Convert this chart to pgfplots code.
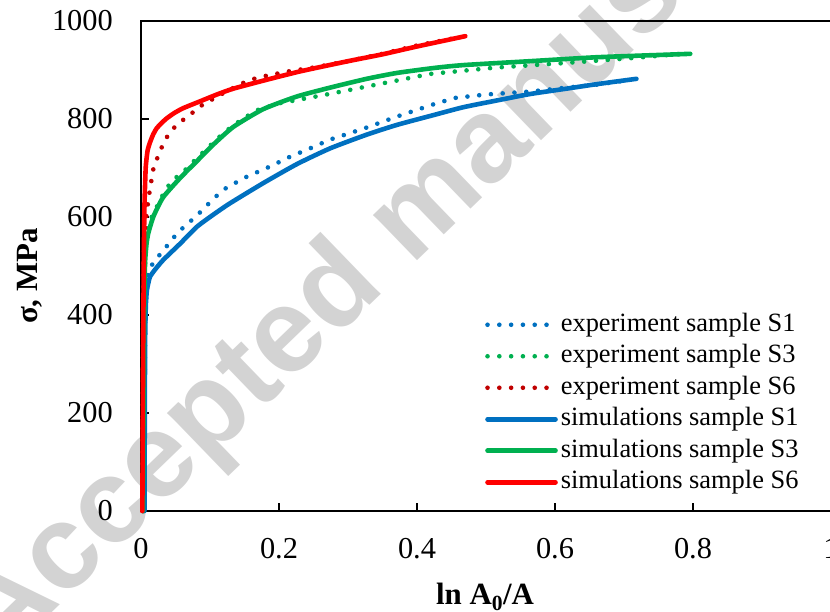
\documentclass[border=0pt]{standalone}
\usepackage{pgfplots}
\pgfplotsset{compat=1.18}
\usepackage{fontspec}
\setmainfont{Liberation Serif}
\newfontfamily\wmfont{Liberation Sans}

\definecolor{sOne}{HTML}{0070C0}
\definecolor{sThree}{HTML}{00B050}
\definecolor{sSix}{HTML}{FF0000}
\definecolor{eSix}{HTML}{C00000}
\definecolor{wmgray}{RGB}{211,211,211}

\pgfplotsset{
  expline/.style={line width=4.6bp, dash pattern=on 0bp off 11.8bp, line cap=round, line join=round},
  simline/.style={line width=4.6bp, line cap=round, line join=round, smooth, tension=0.35},
}

\begin{document}
\begin{tikzpicture}
% journal watermark behind the plot
\node[anchor=base west, rotate=44, text=wmgray, inner sep=0pt,
      font=\wmfont\bfseries\fontsize{120}{120}\selectfont]
      at (-141bp,-152bp) {Accepted manuscript};

\begin{axis}[
  scale only axis,
  width=690bp, height=490bp,
  xmin=0, xmax=1, ymin=0, ymax=1000,
  clip=false,
  axis line style={line width=1.8bp, black},
  xtick={0,0.2,0.4,0.6,0.8,1},
  xticklabels={0,0.2,0.4,0.6,0.8,1},
  ytick={0,200,400,600,800,1000},
  yticklabels={0,200,400,600,800,1000},
  minor tick num=0,
  tick align=inside,
  xtick pos=bottom, ytick pos=left,
  major tick length=8bp,
  tick style={line width=1.5bp, black},
  xticklabel style={font=\fontsize{30.5}{36}\selectfont, inner sep=0pt, anchor=north, yshift=-27bp},
  yticklabel style={font=\fontsize{30.5}{36}\selectfont, inner sep=0pt, anchor=east, xshift=-28bp},
  xlabel={\textbf{ln A\textsubscript{0}/A}},
  xlabel style={at={(axis description cs:0.4986,-0.1918)}, anchor=base, inner sep=0pt,
                font=\fontsize{31}{36}\selectfont},
  ylabel={\textbf{σ, MPa}},
  ylabel style={at={(axis description cs:-0.1493,0.4796)}, anchor=base, rotate=0, inner sep=0pt,
                font=\fontsize{31}{36}\selectfont},
  legend image code/.code={\draw[#1] (0bp,0bp) -- (68bp,0bp);},
  legend style={at={(axis description cs:0.4986,0.406)}, anchor=north west,
                draw=none, fill=none, inner sep=0pt,
                font=\fontsize{26.5}{30}\selectfont,
                nodes={inner sep=0pt, text height=19bp, text depth=6bp},
                row sep=6.5bp,
                /tikz/every odd column/.append style={column sep=3bp}},
  legend cell align=left,
]

% experiment, sample S1
\addplot[sOne, expline] coordinates {
(0.004,0) (0.005,200) (0.006,380) (0.008,450) (0.0106,492) (0.023,516)
(0.035,536) (0.044,553) (0.057,573) (0.081,603) (0.107,640) (0.124,660)
(0.153,682) (0.187,703) (0.216,723) (0.245,740) (0.274,758) (0.322,780)
(0.371,805) (0.424,830) (0.455,843) (0.50,850) (0.564,856) (0.617,864)
(0.66,870) (0.70,878)
};
\addlegendentry{experiment sample S1}

% experiment, sample S3
\addplot[sThree, expline] coordinates {
(0.003,0) (0.004,300) (0.005,450) (0.007,560) (0.0155,600) (0.023,621)
(0.030,641) (0.040,664) (0.052,682) (0.064,696) (0.076,713) (0.09,732)
(0.105,752) (0.12,772) (0.139,792) (0.153,805) (0.168,818) (0.2,832)
(0.235,841) (0.269,850) (0.337,869) (0.419,892) (0.515,905) (0.612,914)
(0.709,924) (0.793,934)
};
\addlegendentry{experiment sample S3}

% experiment, sample S6
\addplot[eSix, expline] coordinates {
(0.002,0) (0.0025,200) (0.003,400) (0.004,520) (0.006,580) (0.0106,635)
(0.0175,696) (0.023,718) (0.030,742) (0.037,762) (0.047,781) (0.060,797)
(0.073,811) (0.087,827) (0.102,839) (0.117,851) (0.147,873) (0.164,882)
(0.181,888) (0.213,897) (0.25,905) (0.30,918) (0.35,933) (0.40,950)
(0.465,968)
};
\addlegendentry{experiment sample S6}

% simulations, sample S1
\addplot[sOne, simline] coordinates {
(0.005,0) (0.0055,200) (0.006,350) (0.007,420) (0.0085,450) (0.0106,465)
(0.013,478) (0.02,492) (0.032,512) (0.057,546) (0.081,580) (0.105,605)
(0.129,628) (0.177,669) (0.226,708) (0.274,740) (0.327,768) (0.371,788)
(0.424,808) (0.467,824) (0.52,839) (0.564,851) (0.617,862) (0.66,871)
(0.718,882)
};
\addlegendentry{simulations sample S1}

% simulations, sample S3
\addplot[sThree, simline] coordinates {
(0.003,0) (0.004,300) (0.005,450) (0.006,510) (0.008,545) (0.0106,567)
(0.018,601) (0.032,640) (0.057,680) (0.081,714) (0.105,748) (0.134,784)
(0.177,820) (0.226,846) (0.274,864) (0.327,882) (0.371,894) (0.424,904)
(0.467,910) (0.564,918) (0.66,926) (0.757,931) (0.796,933)
};
\addlegendentry{simulations sample S3}

% simulations, sample S6
\addplot[sSix, simline] coordinates {
(0.002,0) (0.003,300) (0.004,500) (0.005,620) (0.0068,700) (0.0095,735)
(0.013,752) (0.0175,768) (0.0227,781) (0.03,792) (0.037,801) (0.048,812)
(0.061,822) (0.0855,836) (0.11,850) (0.134,862) (0.182,880) (0.23,897)
(0.30,918) (0.35,932) (0.40,948) (0.47,969)
};
\addlegendentry{simulations sample S6}

\end{axis}
\pgfresetboundingbox
\path[use as bounding box] (-141bp,-101bp) rectangle (689bp,511bp);
\end{tikzpicture}
\end{document}
